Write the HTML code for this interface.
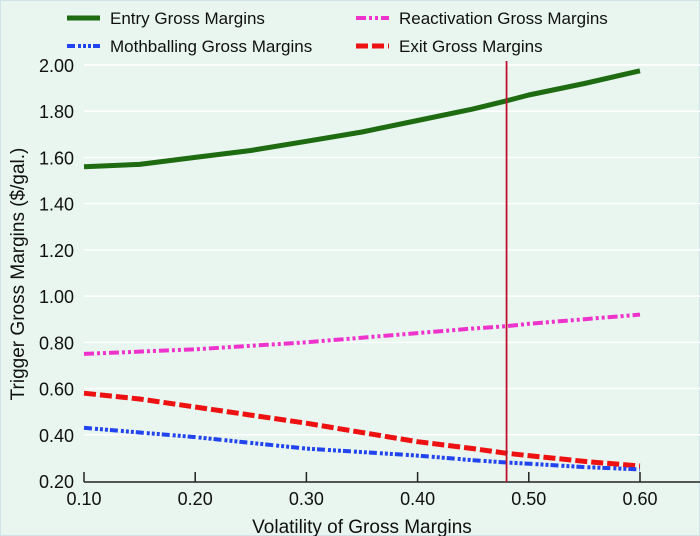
<!DOCTYPE html>
<html><head><meta charset="utf-8"><style>
html,body{margin:0;padding:0;background:#e8f6ef;}
svg{display:block;font-family:"Liberation Sans",sans-serif;}
</style></head><body>
<svg id="chart" width="700" height="536" viewBox="0 0 700 536">
<rect x="0" y="0" width="700" height="536" fill="#e8f6ef" stroke="#cfe3e8" stroke-width="2"/>
<g id="grid"></g><g id="axes"></g><g id="series"></g>
<g font-size="17" fill="#111">
 <g><line x1="67" y1="18" x2="100" y2="18" stroke="#1e6b12" stroke-width="5"/><text x="110" y="24">Entry Gross Margins</text></g>
 <g><line x1="356" y1="18" x2="389" y2="18" stroke="#ee33cc" stroke-width="4" stroke-dasharray="10 3 3 3 3 3"/><text x="399" y="24">Reactivation Gross Margins</text></g>
 <g><line x1="67" y1="46" x2="100" y2="46" stroke="#2244ee" stroke-width="4" stroke-dasharray="8 3 3 2 3 2 3 2"/><text x="110" y="52">Mothballing Gross Margins</text></g>
 <g><line x1="356" y1="46" x2="389" y2="46" stroke="#ee1111" stroke-width="5" stroke-dasharray="12 4"/><text x="399" y="52">Exit Gross Margins</text></g>
</g>
<text transform="translate(24,274) rotate(-90)" text-anchor="middle" font-size="19" fill="#111">Trigger Gross Margins ($/gal.)</text>
<text x="362" y="533" text-anchor="middle" font-size="19" fill="#111">Volatility of Gross Margins</text>
</svg>
<script>
const xCats=[0.10,0.15,0.20,0.25,0.30,0.35,0.40,0.45,0.48,0.50,0.55,0.60];
const entryVals=[1.56,1.57,1.60,1.63,1.67,1.71,1.76,1.81,1.845,1.87,1.92,1.975];
const reactVals=[0.75,0.76,0.77,0.785,0.80,0.82,0.84,0.86,0.87,0.88,0.90,0.92];
const exitVals=[0.58,0.555,0.52,0.485,0.45,0.41,0.37,0.34,0.32,0.31,0.285,0.265];
const mothVals=[0.43,0.41,0.39,0.365,0.34,0.325,0.31,0.29,0.28,0.275,0.26,0.25];
const xTicks=[0.10,0.20,0.30,0.40,0.50,0.60];
const yTicks=[0.20,0.40,0.60,0.80,1.00,1.20,1.40,1.60,1.80,2.00];
const markerX=0.48;
const NS="http://www.w3.org/2000/svg";
const X=v=>84+(v-0.10)*(556/0.5);
const Y=v=>481-(v-0.20)*(416/1.8);
function mk(tag,attrs,parent,text){const e=document.createElementNS(NS,tag);for(const k in attrs)e.setAttribute(k,attrs[k]);if(text!==undefined)e.textContent=text;parent.appendChild(e);return e;}
const grid=document.getElementById('grid'),axes=document.getElementById('axes'),ser=document.getElementById('series');
yTicks.forEach(t=>{
 if(t>0.21){const g=mk('line',{x1:84,x2:700,y1:Y(t),y2:Y(t),stroke:'#ffffff','stroke-width':1.5},grid);
 
 }
 const l=mk('text',{x:74,y:Y(t)+7,'text-anchor':'end','font-size':18,fill:'#111'},axes,t.toFixed(2));
 
 
});
const ax=mk('line',{x1:84,x2:700,y1:482,y2:482,stroke:'#222','stroke-width':1.5},axes);


xTicks.forEach(t=>{
 const tk=mk('line',{x1:X(t),x2:X(t),y1:472,y2:482,stroke:'#222','stroke-width':1.5},axes);
 
 
 const l=mk('text',{x:X(t),y:505,'text-anchor':'middle','font-size':18,fill:'#111'},axes,t.toFixed(2));
 
 
});
function series(vals,color,w,dash,name){
 const d=vals.map((v,i)=>(i?'L':'M')+X(xCats[i]).toFixed(1)+','+Y(v).toFixed(1)).join(' ');
 const p=mk('path',{d:d,fill:'none',stroke:color,'stroke-width':w,'stroke-dasharray':dash,'stroke-linejoin':'round'},ser);
 
 
}
series(entryVals,'#1e6b12',5,'none','entry-line');
series(reactVals,'#ee33cc',4,'10 3 3 3 3 3','reactivation-line');
series(exitVals,'#ee1111',5,'12 4','exit-line');
series(mothVals,'#2244ee',4,'8 3 3 2 3 2 3 2','mothballing-line');
const vl=mk('line',{x1:X(markerX),x2:X(markerX),y1:61,y2:482,stroke:'#c0102e','stroke-width':1.8},ser);


</script>
</body></html>
